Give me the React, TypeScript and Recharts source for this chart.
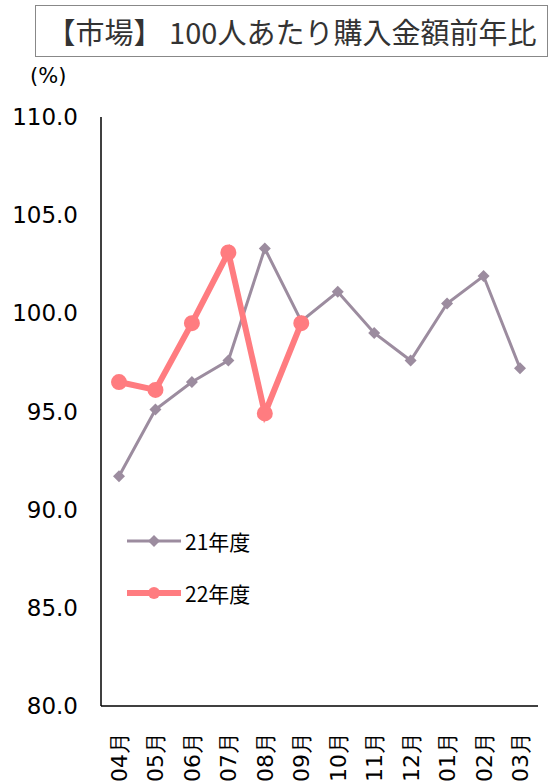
import React from "react";
import { LineChart, Line, XAxis, YAxis } from "recharts";

const months = ["04月","05月","06月","07月","08月","09月","10月","11月","12月","01月","02月","03月"];
const fy21 = [91.7,95.1,96.5,97.6,103.3,99.6,101.1,99.0,97.6,100.5,101.9,97.2];
const fy22: (number|null)[] = [96.5,96.1,99.5,103.1,94.9,99.5,null,null,null,null,null,null];
const yTicks = [80,85,90,95,100,105,110];

const data = months.map((m,i)=>({m, a: fy21[i], b: fy22[i]}));
const FONT = "'DejaVu Sans', Verdana, sans-serif";
const C21 = "#9c8c9f";
const C22 = "#ff7c80";

const Diamond = (p: any) => {
  const { cx, cy } = p;
  if (cx == null || cy == null) return null;
  return <path d={`M${cx},${cy-6}L${cx+6},${cy}L${cx},${cy+6}L${cx-6},${cy}Z`} fill={C21} />;
};

const XTick = (p: any) => {
  const { x, y, payload } = p;
  return (
    <g transform={`translate(${x+8},${y+18}) rotate(-90)`}>
      <text x={0} y={0} textAnchor="end" style={{ fontSize: 22, fontFamily: FONT }} fill="#000">
        {payload.value}
      </text>
    </g>
  );
};

const YTick = (p: any) => {
  const { y, payload } = p;
  return (
    <text x={78} y={y + 8} textAnchor="end" style={{ fontSize: 23, fontFamily: FONT }} fill="#000">
      {Number(payload.value).toFixed(1)}
    </text>
  );
};

export default function App() {
  return (
    <div style={{ position: "absolute", left: 0, top: 0, width: 557, height: 781, background: "#fff", fontFamily: FONT }}>
      <div style={{ position: "absolute", left: 35, top: 5, width: 511, height: 50, border: "1px solid #888", boxSizing: "content-box", display: "flex", alignItems: "center", justifyContent: "center", fontSize: 29, color: "#333", fontFamily: "'Noto Sans CJK JP', sans-serif" }}>
        【市場】 100人あたり購入金額前年比
      </div>
      <div style={{ position: "absolute", left: 30, top: 64, fontSize: 21 }}>(%)</div>
      <LineChart width={557} height={781} data={data} margin={{ top: 117, right: 19, bottom: 0, left: 0 }}>
        <YAxis width={101} domain={[80,110]} ticks={yTicks} interval={0} tickLine={false} axisLine={{ stroke: "#000", strokeWidth: 1.5 }} tick={(p:any)=><YTick {...p} />} />
        <XAxis dataKey="m" height={75} interval={0} padding={{ left: 18, right: 18 }} tickLine={false} axisLine={{ stroke: "#000", strokeWidth: 1.5 }} tick={(p:any)=><XTick {...p} />} />
        <Line dataKey="a" stroke={C21} strokeWidth={3} dot={<Diamond />} isAnimationActive={false} />
        <Line dataKey="b" stroke={C22} strokeWidth={6} dot={{ r: 5, fill: C22, stroke: C22 }} isAnimationActive={false} connectNulls={false} />
      </LineChart>
      <div style={{ position: "absolute", left: 127, top: 526, fontSize: 21, display: "flex", alignItems: "center" }}>
        <svg width={54} height={20}><line x1={0} y1={10} x2={54} y2={10} stroke={C21} strokeWidth={3} /><path d="M27,4L33,10L27,16L21,10Z" fill={C21} /></svg>
        <span style={{ marginLeft: 4, fontFamily: "'Noto Sans CJK JP', sans-serif" }}>21年度</span>
      </div>
      <div style={{ position: "absolute", left: 127, top: 578, fontSize: 21, display: "flex", alignItems: "center" }}>
        <svg width={54} height={20}><line x1={0} y1={10} x2={54} y2={10} stroke={C22} strokeWidth={6} /><circle cx={27} cy={10} r={6} fill={C22} /></svg>
        <span style={{ marginLeft: 4, fontFamily: "'Noto Sans CJK JP', sans-serif" }}>22年度</span>
      </div>
    </div>
  );
}
